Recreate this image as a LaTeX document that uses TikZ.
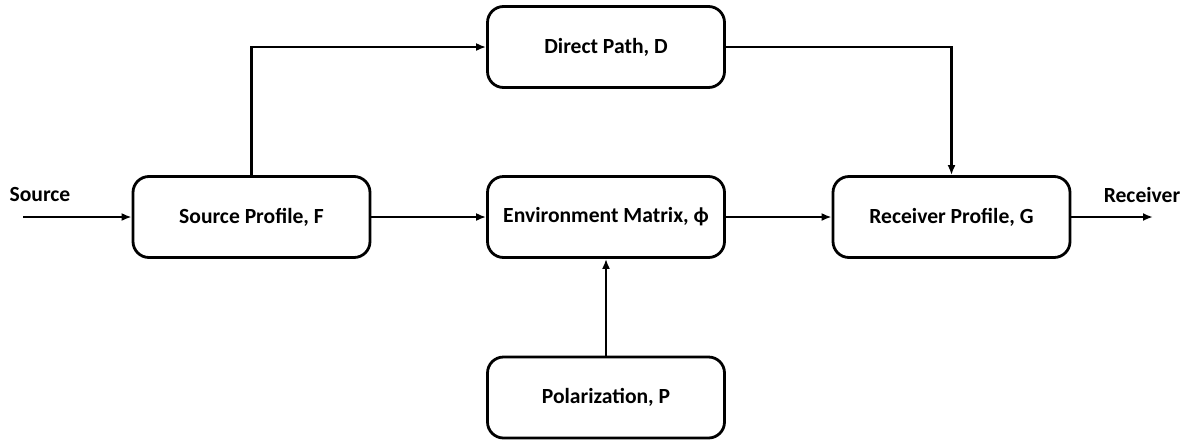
\documentclass[tikz,border=0pt]{standalone}
\usepackage{fontspec}
\setmainfont{Carlito}
\usetikzlibrary{arrows.meta}
\tikzset{block/.style={draw,rounded corners=8pt,minimum width=118.5pt,minimum height=40.5pt,
  font=\bfseries\fontsize{10.8}{12}\selectfont}}
\tikzset{lbl/.style={font=\bfseries\fontsize{10.8}{12}\selectfont}}

\begin{document}
\begin{tikzpicture}[x=0.5pt,y=-0.5pt,line width=1.4pt,>={Latex[length=5pt,width=4pt]}]
		\useasboundingbox (0,0) rectangle (1192,445);
		% blocks
		\node[block] (source) at (251.5,217) {Source Profile, F};
		\node[block] (direct) at (606,47) {Direct Path, D};
		\node[block] (env) at (606,217) {Environment Matrix, ϕ};
		\node[block] (receiver) at (951.5,217) {Receiver Profile, G};
		\node[block] (polar) at (606,397.5) {Polarization, P};
		% in and out
		\coordinate (in) at (23,217);
		\coordinate (out) at (1153,217);
		\node[lbl] (srclbl) at (40,194) {Source};
		\node[lbl] (rcvlbl) at (1142,195) {Receiver};
		% connectors
		\draw[->] (in) -- (source.west);
		\draw[->] (source) -- (env);
		\draw[->] (env) -- (receiver);
		\draw[->] (receiver.east) -- (out);
		\draw[->] (polar) -- (env);
		\draw[->] (source.north) |- (direct.west);
		\draw[->] (direct.east) -| (receiver.north);
\end{tikzpicture}
\end{document}
